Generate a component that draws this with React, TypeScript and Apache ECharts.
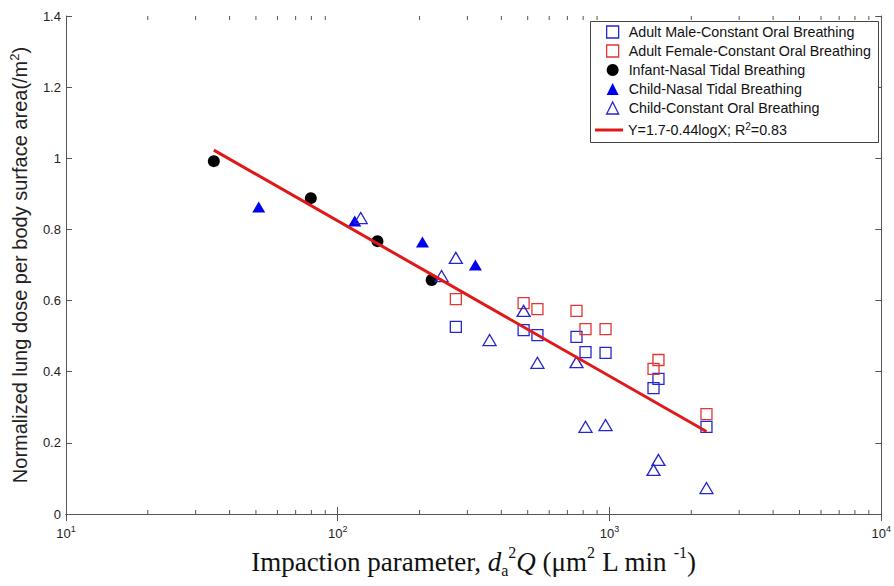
import React, { useEffect, useRef } from 'react';
import * as echarts from 'echarts';

// Impaction parameter values (x) shared by adult groups
const adultX = [272, 483, 543, 756, 816, 967, 1452, 1514, 2274];
const adultMaleY = [0.526, 0.517, 0.503, 0.498, 0.455, 0.453, 0.354, 0.38, 0.245];
const adultFemaleY = [0.604, 0.593, 0.576, 0.571, 0.52, 0.52, 0.408, 0.433, 0.281];

const infantX = [35, 79.6, 140, 221.6];
const infantY = [0.992, 0.888, 0.767, 0.658];

const childNasalX = [51.2, 115.5, 205, 321];
const childNasalY = [0.863, 0.824, 0.765, 0.7];

const childOralX = [121.5, 241, 272, 362, 483, 543, 756, 816, 967, 1452, 1514, 2274];
const childOralY = [0.832, 0.669, 0.72, 0.489, 0.571, 0.425, 0.427, 0.245, 0.25, 0.124, 0.152, 0.073];

// regression line end points
const fitX = [35, 2274];
const fitY = [1.023, 0.232];

const minorTicks = [
  20, 30, 40, 50, 60, 70, 80, 90,
  200, 300, 400, 500, 600, 700, 800, 900,
  2000, 3000, 4000, 5000, 6000, 7000, 8000, 9000,
];

const seriesNames = [
  'Adult Male-Constant Oral Breathing',
  'Adult Female-Constant Oral Breathing',
  'Infant-Nasal Tidal Breathing',
  'Child-Nasal Tidal Breathing',
  'Child-Constant Oral Breathing',
];
const fitName = 'Y=1.7-0.44logX; R²=0.83';

const BLUE_OPEN = '#2626d0';
const BLUE_FILL = '#0000ee';
const RED_OPEN = '#e03636';
const RED_LINE = '#e01818';
const AXIS = '#555';
const SANS = 'Liberation Sans, Arial, sans-serif';
const SERIF = 'Liberation Serif, Times New Roman, serif';

const zip = (xs: number[], ys: number[]) => xs.map((x, i) => [x, ys[i]]);

export default function App() {
  const ref = useRef<HTMLDivElement>(null);
  useEffect(() => {
    const chart = echarts.init(ref.current!, null, { renderer: 'svg' });
    const openStyle = (c: string) => ({ color: 'transparent', borderColor: c, borderWidth: 1.3, opacity: 1 });
    const option: any = {
      animation: false,
      backgroundColor: '#fff',
      grid: { left: 63, right: 12, top: 16, bottom: 72 },
      xAxis: [
        {
          type: 'log',
          logBase: 10,
          min: 10,
          max: 10000,
          position: 'bottom',
          axisLine: { show: true, lineStyle: { color: AXIS, width: 1 } },
          axisTick: { show: true, inside: true, length: 7, lineStyle: { color: AXIS } },
          splitLine: { show: false },
          axisLabel: {
            margin: 10,
            formatter: (v: number) => '{b|10}{s|' + Math.round(Math.log10(v)) + '}',
            rich: {
              b: { fontSize: 13, fontFamily: SANS, color: '#222', lineHeight: 16, verticalAlign: 'bottom' },
              s: { fontSize: 9, fontFamily: SANS, color: '#222', lineHeight: 16, verticalAlign: 'top', padding: [0, 0, 6, 0] },
            },
          },
          name: 'Impaction parameter, {i|d}{sub|a}{sup|2}{i|Q} (μm{sup|2} L min {sup|-1})',
          nameLocation: 'middle',
          nameGap: 27,
          nameTextStyle: {
            fontFamily: SERIF,
            fontSize: 27,
            color: '#111',
            lineHeight: 34,
            rich: {
              i: { fontFamily: SERIF, fontSize: 27, fontStyle: 'italic', color: '#111', lineHeight: 34 },
              sub: { fontFamily: SERIF, fontSize: 16, color: '#111', verticalAlign: 'bottom', lineHeight: 22 },
              sup: { fontFamily: SERIF, fontSize: 16, color: '#111', verticalAlign: 'top', lineHeight: 22 },
            },
          },
        },
        {
          type: 'log',
          logBase: 10,
          min: 10,
          max: 10000,
          position: 'top',
          axisLine: { show: true, lineStyle: { color: AXIS, width: 1 } },
          axisTick: { show: true, inside: true, length: 7, lineStyle: { color: AXIS } },
          axisLabel: { show: false },
          splitLine: { show: false },
        },
      ],
      yAxis: [
        {
          type: 'value',
          min: 0,
          max: 1.4,
          interval: 0.2,
          position: 'left',
          axisLine: { show: true, lineStyle: { color: AXIS, width: 1 } },
          axisTick: { show: true, inside: true, length: 6, lineStyle: { color: AXIS } },
          splitLine: { show: false },
          axisLabel: { fontSize: 13, fontFamily: SANS, color: '#222', margin: 5 },
          name: 'Normalized lung dose per body surface area(/m{sup|2})',
          nameLocation: 'middle',
          nameGap: 31,
          nameTextStyle: {
            fontFamily: SANS,
            fontSize: 20,
            color: '#222',
            lineHeight: 24,
            rich: {
              sup: { fontFamily: SANS, fontSize: 13, color: '#222', verticalAlign: 'top', lineHeight: 14 },
            },
          },
        },
        {
          type: 'value',
          min: 0,
          max: 1.4,
          interval: 0.2,
          position: 'right',
          axisLine: { show: true, lineStyle: { color: AXIS, width: 1 } },
          axisTick: { show: true, inside: true, length: 6, lineStyle: { color: AXIS } },
          splitLine: { show: false },
          axisLabel: { show: false },
        },
      ],
      graphic: [
        {
          type: 'rect',
          z: 1,
          shape: { x: 590.5, y: 21.5, width: 288, height: 121 },
          style: { fill: '#fff', stroke: '#444', lineWidth: 1 },
        },
      ],
      legend: [
        {
          orient: 'vertical',
          left: 601,
          top: 20,
          itemWidth: 12,
          itemHeight: 12,
          itemGap: 5,
          selectedMode: false,
          textStyle: { fontSize: 14.3, fontFamily: SANS, color: '#111', lineHeight: 14, padding: [0, 0, 0, 5] },
          data: [
            { name: seriesNames[0], icon: 'rect', itemStyle: openStyle(BLUE_OPEN) },
            { name: seriesNames[1], icon: 'rect', itemStyle: openStyle(RED_OPEN) },
            { name: seriesNames[2], icon: 'circle', itemStyle: { color: '#000', borderWidth: 0, opacity: 1 } },
            { name: seriesNames[3], icon: 'triangle', itemStyle: { color: BLUE_FILL, borderWidth: 0, opacity: 1 } },
            { name: seriesNames[4], icon: 'triangle', itemStyle: openStyle(BLUE_OPEN) },
          ],
        },
        {
          orient: 'vertical',
          left: 590,
          top: 116,
          itemWidth: 28,
          itemHeight: 3,
          selectedMode: false,
          formatter: (n: string) => n.replace('²', '{sup|2}'),
          textStyle: {
            fontSize: 14.3,
            fontFamily: SANS,
            color: '#111',
            lineHeight: 18,
            rich: { sup: { fontSize: 10, fontFamily: SANS, color: '#111', verticalAlign: 'top', lineHeight: 10 } },
          },
          data: [{ name: fitName, icon: 'rect', itemStyle: { color: RED_LINE, borderWidth: 0, opacity: 1 } }],
        },
      ],
      series: [
        {
          type: 'custom',
          name: 'minorTicks',
          silent: true,
          clip: false,
          xAxisIndex: 0,
          yAxisIndex: 0,
          data: minorTicks.map((v) => [v, 0]),
          renderItem: (_p: any, api: any) => {
            const v = api.value(0);
            const b = api.coord([v, 0]);
            const t = api.coord([v, 1.4]);
            return {
              type: 'group',
              children: [
                { type: 'line', shape: { x1: b[0], y1: b[1], x2: b[0], y2: b[1] - 4 }, style: { stroke: AXIS, lineWidth: 1 } },
                { type: 'line', shape: { x1: t[0], y1: t[1], x2: t[0], y2: t[1] + 4 }, style: { stroke: AXIS, lineWidth: 1 } },
              ],
            };
          },
        },
        {
          name: seriesNames[0],
          type: 'scatter',
          symbol: 'rect',
          symbolSize: 11,
          itemStyle: openStyle(BLUE_OPEN),
          data: zip(adultX, adultMaleY),
        },
        {
          name: seriesNames[1],
          type: 'scatter',
          symbol: 'rect',
          symbolSize: 11,
          itemStyle: openStyle(RED_OPEN),
          data: zip(adultX, adultFemaleY),
        },
        {
          name: seriesNames[2],
          type: 'scatter',
          symbol: 'circle',
          symbolSize: 12,
          itemStyle: { color: '#000', opacity: 1 },
          data: zip(infantX, infantY),
        },
        {
          name: seriesNames[3],
          type: 'scatter',
          symbol: 'triangle',
          symbolSize: [13, 11],
          itemStyle: { color: BLUE_FILL, opacity: 1 },
          data: zip(childNasalX, childNasalY),
        },
        {
          name: seriesNames[4],
          type: 'scatter',
          symbol: 'triangle',
          symbolSize: [13, 11],
          itemStyle: openStyle(BLUE_OPEN),
          data: zip(childOralX, childOralY),
        },
        {
          name: fitName,
          type: 'line',
          symbol: 'none',
          lineStyle: { color: RED_LINE, width: 3 },
          itemStyle: { color: RED_LINE },
          data: zip(fitX, fitY),
          z: 3,
        },
      ],
    };
    chart.setOption(option);
    return () => chart.dispose();
  }, []);
  return (
    <div
      ref={ref}
      style={{ position: 'fixed', left: 0, top: 0, width: 894, height: 586, background: '#fff' }}
    />
  );
}
